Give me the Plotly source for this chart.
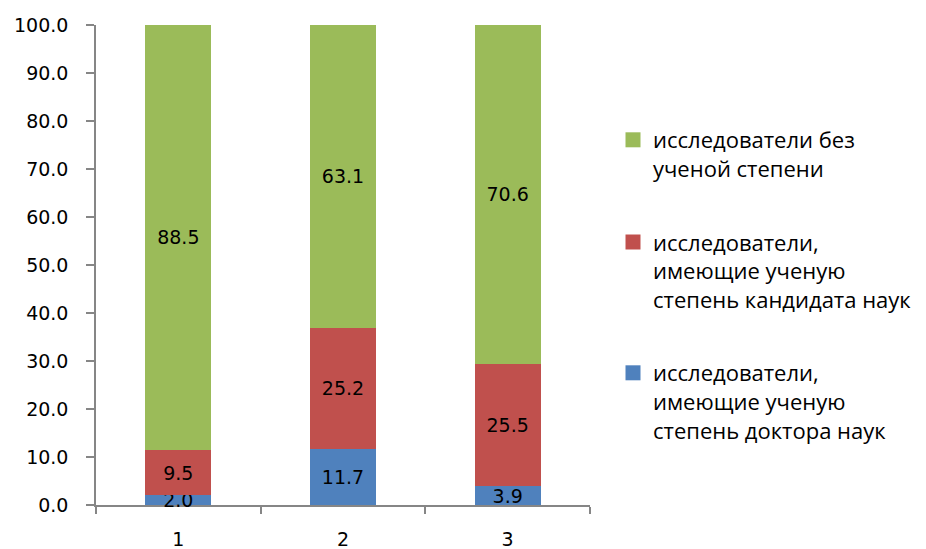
import plotly.graph_objects as go

categories = ["1", "2", "3"]
doctors = [2.0, 11.7, 3.9]
candidates = [9.5, 25.2, 25.5]
no_degree = [88.5, 63.1, 70.6]

names = [
    "исследователи,<br>имеющие ученую<br>степень доктора наук",
    "исследователи,<br>имеющие ученую<br>степень кандидата наук",
    "исследователи без<br>ученой степени",
]
colors = ["#4F81BD", "#C0504D", "#9BBB59"]
series = [doctors, candidates, no_degree]
ranks = [3, 2, 1]

FONT = "DejaVu Sans"
LEG_FONT = "Open Sans"

# page has an 8px body margin; compensate so the plot lands where the reference is
L, T = 88, 17
PW, PH = 494, 480

fig = go.Figure()
for i, (vals, name, col) in enumerate(zip(series, names, colors)):
    fig.add_trace(go.Bar(
        x=categories, y=vals, name=name,
        marker=dict(color=col, line=dict(width=0)),
        text=[f"{v:.1f}" for v in vals],
        textposition="inside",
        insidetextanchor="middle",
        constraintext="none",
        textangle=0,
        textfont=dict(family=FONT, size=19, color="black"),
        cliponaxis=False,
        showlegend=False,
    ))
    # legend-only entry with a larger square swatch
    fig.add_trace(go.Scatter(
        x=[None], y=[None], mode="markers", name=name,
        marker=dict(symbol="square", size=15, color=col),
        legendgroup=f"g{i}", legendrank=ranks[i], showlegend=True,
        hoverinfo="skip",
    ))

fig.update_layout(
    barmode="stack",
    bargap=0.6,
    width=926, height=549,
    margin=dict(l=L, r=926 - L - PW, t=T, b=549 - T - PH, autoexpand=False),
    plot_bgcolor="white", paper_bgcolor="white",
    font=dict(family=FONT, size=19, color="black"),
    showlegend=True,
    legend=dict(
        traceorder="grouped",
        tracegroupgap=42,
        valign="top",
        x=(605 - L) / PW, xanchor="left",
        y=(T + PH - 111) / PH, yanchor="top",
        font=dict(family=LEG_FONT, size=22, color="black"),
        bgcolor="rgba(0,0,0,0)",
    ),
)
fig.update_yaxes(
    range=[0, 100], dtick=10, tickformat=".1f",
    showgrid=False, zeroline=False, automargin=False,
    showline=True, linecolor="#868686", linewidth=1.5,
    ticks="outside", ticklen=8, tickcolor="#868686", tickwidth=1.5,
    ticklabelstandoff=14,
    tickfont=dict(family=FONT, size=19, color="black"),
)
fig.update_xaxes(
    showgrid=False, zeroline=False, automargin=False,
    showline=True, linecolor="#868686", linewidth=1.5,
    ticks="outside", ticklen=7, tickcolor="#868686", tickwidth=1.5,
    tickson="boundaries", layer="below traces",
    ticklabelstandoff=16,
    tickfont=dict(family=FONT, size=19, color="black"),
)

fig.write_html("out.html")
